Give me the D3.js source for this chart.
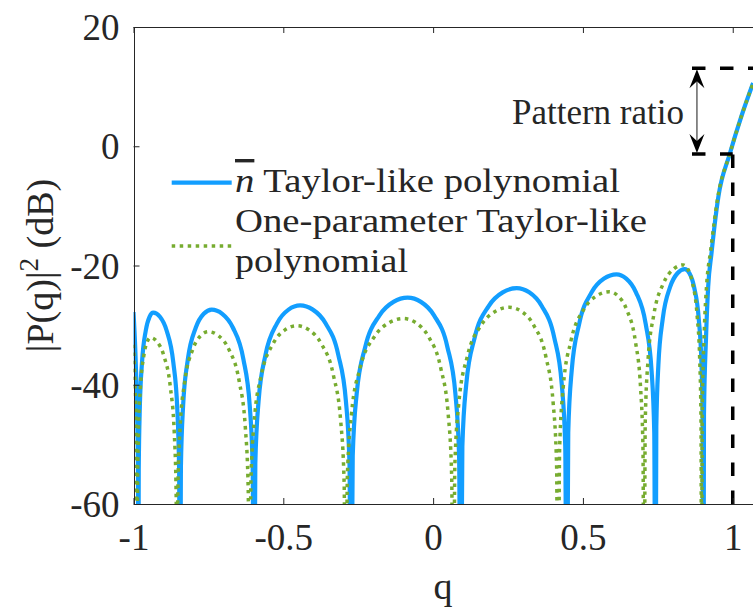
<!DOCTYPE html>
<html>
<head>
<meta charset="utf-8">
<script src="https://cdn.jsdelivr.net/npm/d3@7"></script>
<style>
  body { margin: 0; background: #fff; }
  svg { display: block; }
  text { font-family: 'Liberation Serif'; fill: #262626; }
</style>
</head>
<body>
<div id="chart"></div>
<script>
// tick values
var qTicks = [-1, -0.5, 0, 0.5, 1]
var dbTicks = [-60, -40, -20, 0, 20]

// legend labels
var seriesNames = ['Taylor-like polynomial', 'One-parameter Taylor-like', 'polynomial']

// |P(q)|^2 in dB; -90 marks a null (below the axis)
var nbarTaylor = [
  [-1, -27.8], [-0.994, -34.2], [-0.989, -42.6], [-0.985, -55], [-0.984, -90],
  [-0.9825, -54.4], [-0.979, -44.0], [-0.9715, -36.2], [-0.959, -30.9], [-0.9465, -28.6], [-0.934, -27.9],
  [-0.9118, -28.6], [-0.8895, -30.9], [-0.8673, -36.2], [-0.8539, -44.0], [-0.8477, -54.4], [-0.845, -90],
  [-0.8418, -53.9], [-0.8344, -43.5], [-0.8185, -35.7], [-0.792, -30.4], [-0.7655, -28.1], [-0.739, -27.4],
  [-0.7038, -28.1], [-0.6685, -30.4], [-0.6333, -35.7], [-0.6121, -43.5], [-0.6022, -53.9], [-0.598, -90],
  [-0.5934, -53.2], [-0.5826, -42.8], [-0.5595, -35.0], [-0.521, -29.7], [-0.4825, -27.4], [-0.444, -26.7],
  [-0.4015, -27.4], [-0.359, -29.7], [-0.3165, -35.0], [-0.291, -42.8], [-0.2791, -53.2], [-0.274, -90],
  [-0.2683, -51.9], [-0.2551, -41.5], [-0.2268, -33.7], [-0.1795, -28.4], [-0.1323, -26.1], [-0.085, -25.4],
  [-0.0408, -26.1], [0.0035, -28.4], [0.0478, -33.7], [0.0743, -41.5], [0.0867, -51.9], [0.092, -90],
  [0.0976, -50.3], [0.1107, -39.9], [0.1388, -32.1], [0.1855, -26.8], [0.2323, -24.5], [0.279, -23.8],
  [0.3207, -24.5], [0.3625, -26.8], [0.4043, -32.1], [0.4293, -39.9], [0.441, -50.3], [0.446, -90],
  [0.451, -48.0], [0.4626, -37.6], [0.4875, -29.8], [0.529, -24.5], [0.5705, -22.2], [0.612, -21.5],
  [0.6445, -22.2], [0.677, -24.5], [0.7095, -29.8], [0.729, -37.6], [0.7381, -48.0], [0.742, -90],
  [0.7449, -47.1], [0.7518, -36.7], [0.7665, -28.9], [0.791, -23.6], [0.8155, -21.3], [0.840, -20.6],
  [0.8555, -21.3], [0.871, -23.6], [0.8865, -28.9], [0.8958, -36.7], [0.9001, -47.1], [0.902, -90],
  [0.904, -45], [0.911, -31.9], [0.918, -23.6], [0.929, -18.0], [0.952, -8.5], [0.99, -1.3],
  [1.03, 5.2], [1.068, 10.6]
]

var oneParamTaylor = [
  [-1, -33.3], [-0.995, -40], [-0.991, -48], [-0.988, -90],
  [-0.9867, -58.6], [-0.9835, -48.2], [-0.9768, -40.4], [-0.9655, -35.1], [-0.9543, -32.8], [-0.943, -32.1],
  [-0.921, -32.8], [-0.899, -35.1], [-0.877, -40.4], [-0.8638, -48.2], [-0.8576, -58.6], [-0.855, -90],
  [-0.8519, -57.6], [-0.8445, -47.2], [-0.8288, -39.4], [-0.8025, -34.1], [-0.7763, -31.8], [-0.750, -31.1],
  [-0.7158, -31.8], [-0.6815, -34.1], [-0.6473, -39.4], [-0.6267, -47.2], [-0.6171, -57.6], [-0.613, -90],
  [-0.6083, -56.6], [-0.5972, -46.2], [-0.5735, -38.4], [-0.534, -33.1], [-0.4945, -30.8], [-0.455, -30.1],
  [-0.4143, -30.8], [-0.3735, -33.1], [-0.3328, -38.4], [-0.3083, -46.2], [-0.2969, -56.6], [-0.292, -90],
  [-0.2862, -55.4], [-0.2727, -45.0], [-0.2438, -37.2], [-0.1955, -31.9], [-0.1473, -29.6], [-0.099, -28.9],
  [-0.0575, -29.6], [-0.016, -31.9], [0.0255, -37.2], [0.0504, -45.0], [0.062, -55.4], [0.067, -90],
  [0.0726, -53.5], [0.0857, -43.1], [0.1138, -35.3], [0.1605, -30.0], [0.2073, -27.7], [0.254, -27.0],
  [0.2948, -27.7], [0.3355, -30.0], [0.3763, -35.3], [0.4007, -43.1], [0.4121, -53.5], [0.417, -90],
  [0.4221, -50.9], [0.4341, -40.5], [0.4598, -32.7], [0.5025, -27.4], [0.5453, -25.1], [0.588, -24.4],
  [0.617, -25.1], [0.646, -27.4], [0.675, -32.7], [0.6924, -40.5], [0.7005, -50.9], [0.704, -90],
  [0.7079, -46.4], [0.7171, -36.0], [0.7368, -28.2], [0.7695, -22.9], [0.8023, -20.6], [0.835, -19.9],
  [0.8502, -20.6], [0.8655, -22.9], [0.8808, -28.2], [0.8899, -36.0], [0.8942, -46.4], [0.896, -90],
  [0.898, -45], [0.905, -31], [0.913, -23.2], [0.926, -17.6], [0.95, -8.6], [0.99, -1.3],
  [1.03, 5.2], [1.068, 10.6]
]

// pattern ratio annotation (q, dB)
var ratioTopDb = 13.1
var ratioBottomDb = -1.3
var ratioStartQ = 0.864
var ratioArrowQ = 0.8805
var ratioEdgeQ = 1

var width = 753, height = 607
var blue = '#129eff', green = '#77ac30', axisColor = '#262626'
var serif = "'Liberation Serif'"

var x = d3.scaleLinear().domain([-1, 1.1]).range([133.5, 762.7])
var y = d3.scaleLinear().domain([-60, 20]).range([504, 27])

var svg = d3.select('#chart').append('svg')
  .attr('width', width)
  .attr('height', height)

svg.append('defs').append('clipPath').attr('id', 'plot-clip')
  .append('rect')
  .attr('x', x(-1)).attr('y', y(20))
  .attr('width', x(1.1) - x(-1)).attr('height', y(-60) - y(20))

var line = d3.line()
  .x(function (d) { return x(d[0]) })
  .y(function (d) { return y(d[1]) })
  .curve(d3.curveMonotoneX)

var plot = svg.append('g').attr('clip-path', 'url(#plot-clip)')

plot.append('path')
  .attr('d', line(nbarTaylor))
  .attr('fill', 'none')
  .attr('stroke', blue)
  .attr('stroke-width', 4.2)

plot.append('path')
  .attr('d', line(oneParamTaylor))
  .attr('fill', 'none')
  .attr('stroke', green)
  .attr('stroke-width', 3.5)
  .attr('stroke-dasharray', '3.5 4.5')

// pattern ratio dashed guides
var dashed = function (x1, y1, x2, y2) {
  plot.append('line')
    .attr('x1', x(x1)).attr('y1', y(y1))
    .attr('x2', x(x2)).attr('y2', y(y2))
    .attr('stroke', '#000')
    .attr('stroke-width', 3.5)
    .attr('stroke-dasharray', '13.5 14.5')
}
dashed(ratioStartQ, ratioTopDb, 1.1, ratioTopDb)
dashed(ratioStartQ, ratioBottomDb, ratioEdgeQ, ratioBottomDb)
dashed(ratioEdgeQ, -60, ratioEdgeQ, ratioBottomDb)

// double arrow
var ax = x(ratioArrowQ), ayTop = y(ratioTopDb), ayBot = y(ratioBottomDb)
svg.append('line')
  .attr('x1', ax).attr('y1', ayTop + 10)
  .attr('x2', ax).attr('y2', ayBot - 10)
  .attr('stroke', '#4d4d4d')
  .attr('stroke-width', 1.3)
var head = function (tipY, dir) {
  var p = d3.path()
  p.moveTo(ax, tipY)
  p.lineTo(ax - 7.5, tipY + dir * 19)
  p.lineTo(ax, tipY + dir * 12)
  p.lineTo(ax + 7.5, tipY + dir * 19)
  p.closePath()
  svg.append('path').attr('d', p.toString()).attr('fill', '#000')
}
head(ayTop + 1, 1)
head(ayBot - 1, -1)

svg.append('text')
  .attr('x', 684).attr('y', 124)
  .attr('text-anchor', 'end')
  .style('font-family', serif)
  .style('font-size', '35px')
  .text('Pattern ratio')

// axes
var styleAxis = function (g) {
  g.attr('font-family', null)
  g.selectAll('path, line').attr('stroke', axisColor).attr('stroke-width', 1)
  g.selectAll('text').attr('fill', axisColor)
    .style('font-size', '37px')
    .style('font-family', serif)
}

svg.append('g')
  .attr('transform', 'translate(0,' + y(-60) + ')')
  .call(d3.axisBottom(x).tickValues(qTicks).tickSize(-6).tickSizeOuter(0)
    .tickFormat(function (d) { return String(d) }))
  .call(styleAxis)
  .call(function (g) { g.selectAll('text').attr('y', 46).attr('dy', null) })

svg.append('g')
  .attr('transform', 'translate(0,' + y(20) + ')')
  .call(d3.axisTop(x).tickValues(qTicks).tickSize(-6).tickSizeOuter(0).tickFormat(''))
  .call(styleAxis)

svg.append('g')
  .attr('transform', 'translate(' + x(-1) + ',0)')
  .call(d3.axisLeft(y).tickValues(dbTicks).tickSize(-6).tickSizeOuter(0).tickPadding(14)
    .tickFormat(function (d) { return String(d) }))
  .call(styleAxis)
  .call(function (g) { g.selectAll('text').attr('dy', '0.34em') })

svg.selectAll('.domain').attr('shape-rendering', 'crispEdges')

// axis labels
svg.append('text')
  .attr('x', 443).attr('y', 599)
  .attr('text-anchor', 'middle')
  .style('font-family', serif)
  .style('font-size', '38px')
  .text('q')

var ylab = svg.append('text')
  .attr('transform', 'translate(53,' + (y(-60) + y(20)) / 2 + ') rotate(-90)')
  .attr('text-anchor', 'middle')
  .style('font-family', serif)
  .style('font-size', '38px')
ylab.append('tspan').text('|P(q)|')
ylab.append('tspan').attr('dy', -15).style('font-size', '27px').text('2')
ylab.append('tspan').attr('dy', 15).text(' (dB)')

// legend
var legend = svg.append('g')
legend.append('line')
  .attr('x1', 171.7).attr('x2', 231.7).attr('y1', 182.7).attr('y2', 182.7)
  .attr('stroke', blue).attr('stroke-width', 4.2)
legend.append('line')
  .attr('x1', 171.7).attr('x2', 231.7).attr('y1', 246).attr('y2', 246)
  .attr('stroke', green).attr('stroke-width', 3.5).attr('stroke-dasharray', '3.5 4.5')

var t1 = legend.append('text').attr('x', 235).attr('y', 192)
  .style('font-family', serif)
  .style('font-size', '34px').attr('textLength', 385).attr('lengthAdjust', 'spacingAndGlyphs')
t1.append('tspan').style('font-style', 'italic').style('text-decoration', 'overline').text('n')
t1.append('tspan').text(' ' + seriesNames[0])

legend.append('text').attr('x', 235).attr('y', 232)
  .style('font-family', serif)
  .style('font-size', '34px').attr('textLength', 412).attr('lengthAdjust', 'spacingAndGlyphs')
  .text(seriesNames[1])
legend.append('text').attr('x', 235).attr('y', 272)
  .style('font-family', serif)
  .style('font-size', '34px').attr('textLength', 173).attr('lengthAdjust', 'spacingAndGlyphs')
  .text(seriesNames[2])
</script>
</body>
</html>
